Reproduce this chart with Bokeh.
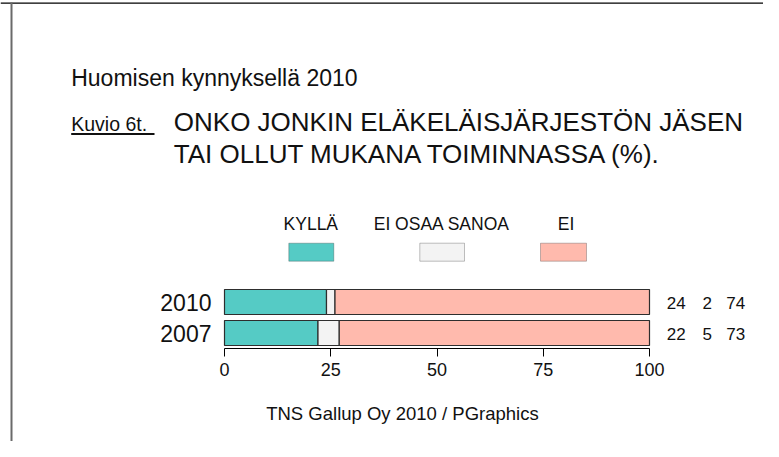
from bokeh.plotting import figure
from bokeh.models import (Range1d, FixedTicker, Label, LabelSet,
                          BoxAnnotation, ColumnDataSource)
from bokeh.core.properties import value
from bokeh.embed import file_html
from bokeh.resources import INLINE

# ---------------- data ----------------
years = ["2007", "2010"]          # bottom to top
series = ["kylla", "eos", "ei"]
series_labels = ["KYLLÄ", "EI OSAA SANOA", "EI"]
kylla = [22, 24]
eos = [5, 2]
ei = [73, 74]
x_ticks = [0, 25, 50, 75, 100]
colors = ["#55cbc5", "#f3f3f3", "#ffbaad"]

title_top = "Huomisen kynnyksellä 2010"
fig_no = "Kuvio 6t."
title_1 = "ONKO JONKIN ELÄKELÄISJÄRJESTÖN JÄSEN"
title_2 = "TAI OLLUT MUKANA TOIMINNASSA (%)."
footer = "TNS Gallup Oy 2010 / PGraphics"

# ---------------- layout (page pixels) ----------------
X0, Y0 = 0, 0            # page position of the canvas
W, H = 763, 441
AX_L, AX_R, AX_Y = 224, 649, 348   # page px of x=0, x=100 and the axis line
SLOT = 31                           # px per category

FONT = "Liberation Sans"

px_per_unit = (AX_R - AX_L) / 100.0
x_range = Range1d((X0 - AX_L) / px_per_unit, (X0 + W - AX_L) / px_per_unit)
y_range = Range1d((AX_Y - (Y0 + H)) / SLOT, (AX_Y - Y0) / SLOT)

def sx(px):
    return px - X0

def sy(py):
    return (Y0 + H) - py

ypos = [i + 0.5 for i in range(len(years))]
src = ColumnDataSource(dict(y=ypos, year=years, kylla=kylla, eos=eos, ei=ei,
                            kylla_t=[str(v) for v in kylla],
                            eos_t=[str(v) for v in eos],
                            ei_t=[str(v) for v in ei]))

p = figure(width=W, height=H, output_backend="svg", toolbar_location=None,
           x_range=x_range, y_range=y_range,
           min_border=0, min_border_left=0, min_border_right=0,
           min_border_top=0, min_border_bottom=0)
p.outline_line_color = None
p.xgrid.grid_line_color = None
p.ygrid.grid_line_color = None
p.background_fill_color = "white"
p.border_fill_color = "white"
p.yaxis.visible = False

p.hbar_stack(series, y="y", height=25 / SLOT, color=colors, source=src,
             line_color="#2e2e2e", line_width=1.2)

# x axis, fixed at y = 0 inside the canvas
xa = p.xaxis[0]
xa.fixed_location = 0
xa.bounds = (x_ticks[0], x_ticks[-1])
xa.ticker = FixedTicker(ticks=x_ticks)
xa.major_tick_in = 0
xa.major_tick_out = 8
xa.minor_tick_line_color = None
xa.axis_line_color = "#000000"
xa.axis_line_width = 1.2
xa.major_tick_line_color = "#000000"
xa.major_label_text_font = FONT
xa.major_label_text_font_size = "18px"
xa.major_label_text_color = "#111111"
xa.major_label_standoff = 6

# year labels left of the bars
p.add_layout(LabelSet(x=0, y="y", text="year", source=src, x_offset=-13,
                      text_align="right", text_baseline="middle",
                      text_font=value(FONT), text_font_size=value("23px"),
                      text_color="#111111"))

# value labels to the right of the bars
for col, xoff in zip(["kylla_t", "eos_t", "ei_t"], [26.7, 57.8, 86.3]):
    p.add_layout(LabelSet(x=100, y="y", text=col, source=src,
                          x_offset=xoff, y_offset=-1,
                          text_align="center", text_baseline="middle",
                          text_font=value(FONT), text_font_size=value("17px"),
                          text_color="#111111"))

def add_label(text, px, py, size, align="left"):
    # py is the vertical middle of the capital letters
    p.add_layout(Label(x=sx(px), y=sy(py), x_units="screen", y_units="screen",
                       text=text, text_font=FONT, text_font_size=size,
                       text_align=align, text_baseline="middle",
                       text_color="#111111"))

def add_box(l, r, t, b, fill, line=None, lw=1):
    p.add_layout(BoxAnnotation(left=sx(l), right=sx(r), top=sy(t), bottom=sy(b),
                               left_units="screen", right_units="screen",
                               top_units="screen", bottom_units="screen",
                               fill_color=fill, fill_alpha=1,
                               line_color=line, line_width=lw))

add_label(title_top, 70.7, 77.5, "23px")
add_label(fig_no, 70.7, 123.7, "19.5px")
add_label(title_1, 173.3, 121.5, "26px")
add_label(title_2, 173.3, 153, "26px")
add_label(footer, 265.7, 413, "18.5px")

# underline of "Kuvio 6t."
add_box(70.7, 154, 132.5, 134.5, "#111111")

# legend: labels above swatches
sw_left = [288.3, 419.3, 540.0]
sw_right = [333.3, 464.0, 586.0]
lab_cx = [310.3, 441.3, 565.5]
for lab, l, r, cx, c in zip(series_labels, sw_left, sw_right, lab_cx, colors):
    add_label(lab, cx, 223.5, "17.5px", align="center")
    add_box(l, r, 242.7, 260.7, c, line="#2e2e2e")

# frame lines (top and left)
add_box(X0, X0 + W, 2, 3.3, "#000000")
add_box(10, 12, 2, Y0 + H, "#6a6a6a")

open("out.html", "w").write(file_html(p, INLINE))
